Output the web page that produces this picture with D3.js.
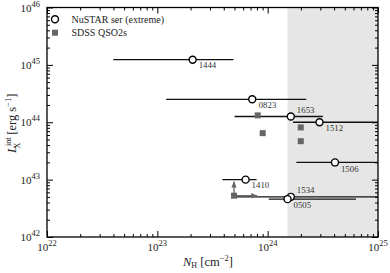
<!DOCTYPE html>
<html><head><meta charset="utf-8">
<script src="https://cdn.jsdelivr.net/npm/d3@7"></script>
<style>body{margin:0;background:#fff}svg{display:block}text{font-family:"Liberation Serif","DejaVu Serif",serif;}</style>
</head><body><svg id="c" width="390" height="273"></svg>
<script>
// ---- data ----
const names   = ["1444","0823","1653","1512","1506","1410","1534","0505"];
const logNH   = [23.32, 23.86, 24.21, 24.47, 24.61, 23.80, 24.21, 24.18];
const logNHlo = [22.60, 23.08, 23.70, 24.23, 24.26, 23.59, 23.70, 24.01];
const logNHhi = [23.69, 24.35, 24.50, 25.00, 25.00, 23.90, 25.00, 24.80];
const logLX   = [45.09, 44.40, 44.10, 44.00, 43.30, 43.00, 42.70, 42.66];
const sdssNH  = [23.91, 23.955, 24.30, 24.30, 23.695];
const sdssLX  = [44.12, 43.81, 43.91, 43.67, 42.72];
const sdssLim = [false, false, false, false, true];
const shadeFrom = 24.18;
const xTicks = [22, 23, 24, 25];
const yTicks = [42, 43, 44, 45, 46];
const legendLabels = ["NuSTAR ser (extreme)", "SDSS QSO2s"];
// label offsets (style)
const lblDx = [6, 6.5, 6, 6, 6, 6, 6, 6];
const lblDy = [8.5, 8.7, -3.5, 8.5, 9.5, 8.5, -4, 9];

const W = 390, H = 273, m = {l:47, r:12, t:7.5, b:36};
const svg = d3.select("#c");
const x = d3.scaleLog().domain([1e22, 1e25]).range([m.l, W - m.r]);
const y = d3.scaleLog().domain([1e42, 1e46]).range([H - m.b, m.t]);
const p = v => Math.pow(10, v);

// shaded region
svg.append("rect").attr("x", x(p(shadeFrom))).attr("y", m.t)
  .attr("width", x(1e25) - x(p(shadeFrom))).attr("height", y(1e42) - m.t)
  .attr("fill", "#e6e6e6");

// ticks
function minors(lo, hi){ const a=[]; for(let e=lo;e<hi;e++) for(let k=2;k<=9;k++) a.push(k*Math.pow(10,e)); return a; }
const xMaj = xTicks.map(p), yMaj = yTicks.map(p);
const xMin = minors(22,25), yMin = minors(42,46);
const gAx = svg.append("g");
function addAxis(gen, scale, vals, size, tx, ty){
  const g = gAx.append("g").attr("transform",`translate(${tx},${ty})`)
    .call(gen(scale).tickValues(vals).tickSize(size).tickFormat(""));
  g.select(".domain").remove();
  g.selectAll("line").attr("stroke","#000").attr("stroke-width",1);
}
addAxis(d3.axisBottom, x, xMaj, -6, 0, H-m.b);
addAxis(d3.axisBottom, x, xMin, -3, 0, H-m.b);
addAxis(d3.axisTop, x, xMaj, -6, 0, m.t);
addAxis(d3.axisTop, x, xMin, -3, 0, m.t);
addAxis(d3.axisLeft, y, yMaj, -6, m.l, 0);
addAxis(d3.axisLeft, y, yMin, -3, m.l, 0);
addAxis(d3.axisRight, y, yMaj, -6, W-m.r, 0);
addAxis(d3.axisRight, y, yMin, -3, W-m.r, 0);

// frame
svg.append("rect").attr("x", m.l).attr("y", m.t).attr("width", W-m.l-m.r).attr("height", H-m.t-m.b)
  .attr("fill","none").attr("stroke","#000").attr("stroke-width",1.3);

// tick labels
xTicks.forEach(e=>{
  const t = svg.append("text").attr("x", x(p(e))).attr("y", H-m.b+14).attr("text-anchor","middle")
    .attr("font-size",11).attr("fill","#222");
  t.append("tspan").text("10");
  t.append("tspan").attr("dy",-5).attr("font-size",8.5).text(e);
});
yTicks.forEach(e=>{
  const t = svg.append("text").attr("x", m.l-7).attr("y", y(p(e))+4).attr("text-anchor","end")
    .attr("font-size",11).attr("fill","#222");
  t.append("tspan").text("10");
  t.append("tspan").attr("dy",-5).attr("font-size",8.5).text(e);
});

// axis titles
const xt = svg.append("text").attr("x", 183).attr("y", 266).attr("font-size",12.5).attr("fill","#222");
xt.append("tspan").attr("font-style","italic").text("N");
xt.append("tspan").attr("font-size",8).attr("dy",2).text("H");
xt.append("tspan").attr("dy",-2).text(" [cm");
xt.append("tspan").attr("font-size",8.5).attr("dy",-5).text("\u22122");
xt.append("tspan").attr("dy",5).text("]");

const yt = svg.append("text").attr("transform","translate(16,153) rotate(-90)").attr("font-size",12.5).attr("fill","#222");
yt.append("tspan").attr("font-style","italic").text("L");
yt.append("tspan").attr("font-size",8).attr("dy",-5).text("int");
yt.append("tspan").attr("font-size",8).attr("dx",-11).attr("dy",8.5).text("X");
yt.append("tspan").attr("dx",5).attr("dy",-3.5).text(" [erg s");
yt.append("tspan").attr("font-size",8.5).attr("dy",-5).text("\u22121");
yt.append("tspan").attr("dy",5).text("]");

// error bars
const gE = svg.append("g");
names.forEach((n,i)=>{
  gE.append("line").attr("x1", x(p(logNHlo[i]))).attr("x2", Math.min(x(p(logNHhi[i])), W-m.r))
    .attr("y1", y(p(logLX[i]))).attr("y2", y(p(logLX[i])))
    .attr("stroke","#111").attr("stroke-width",1.3);
});

// SDSS squares
const grey = "#666";
svg.append("defs").append("marker").attr("id","ah").attr("viewBox","0 0 10 10").attr("refX",9).attr("refY",5)
  .attr("markerWidth",5).attr("markerHeight",5).attr("orient","auto-start-reverse")
  .append("path").attr("d","M0,1 L10,5 L0,9 z").attr("fill",grey);
sdssNH.forEach((v,i)=>{
  const cx = x(p(v)), cy = y(p(sdssLX[i]));
  if (sdssLim[i]) {
    svg.append("line").attr("x1",cx).attr("y1",cy).attr("x2",cx).attr("y2",cy-14)
      .attr("stroke",grey).attr("stroke-width",1.3).attr("marker-end","url(#ah)");
    svg.append("line").attr("x1",cx).attr("y1",cy).attr("x2",cx+23).attr("y2",cy)
      .attr("stroke",grey).attr("stroke-width",1.3).attr("marker-end","url(#ah)");
  }
  svg.append("rect").attr("x",cx-3).attr("y",cy-3).attr("width",6).attr("height",6).attr("fill",grey);
});

// NuSTAR circles
names.forEach((n,i)=>{
  const cx = x(p(logNH[i])), cy = y(p(logLX[i]));
  svg.append("circle").attr("cx",cx).attr("cy",cy).attr("r",3.5)
    .attr("fill","#fff").attr("stroke","#000").attr("stroke-width",1.4);
  svg.append("text").attr("x",cx+lblDx[i]).attr("y",cy+lblDy[i]).attr("font-size",8.8).attr("fill","#333").text(n);
});

// legend
svg.append("circle").attr("cx",55).attr("cy",19.3).attr("r",3.5).attr("fill","#fff").attr("stroke","#000").attr("stroke-width",1.4);
svg.append("text").attr("x",71.5).attr("y",22.5).attr("font-size",10).attr("fill","#222").text(legendLabels[0]);
svg.append("rect").attr("x",52).attr("y",29.7).attr("width",6).attr("height",6).attr("fill",grey);
svg.append("text").attr("x",71.5).attr("y",36).attr("font-size",10).attr("fill","#222").text(legendLabels[1]);
</script></body></html>
